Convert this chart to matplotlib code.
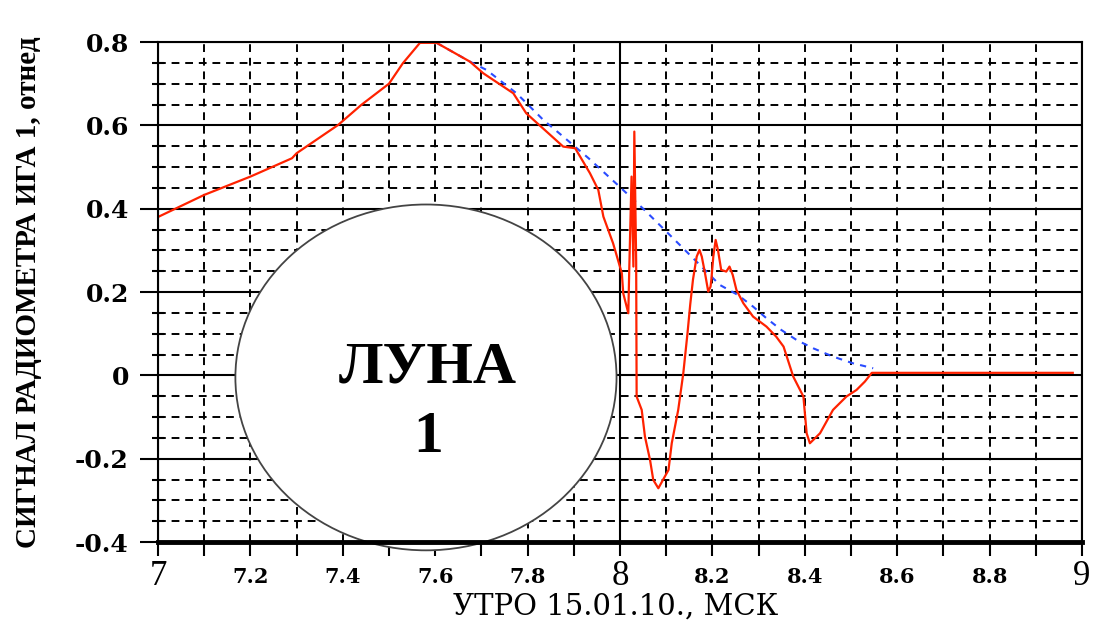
import numpy as np
import matplotlib.pyplot as plt
from matplotlib.patches import Ellipse
from matplotlib.ticker import MultipleLocator

# measured radiometer signal (red)
t_sig = [7.00, 7.10, 7.20, 7.29, 7.30, 7.39, 7.44, 7.50, 7.53, 7.567, 7.603,
         7.675, 7.704, 7.769, 7.797, 7.877, 7.903, 7.935, 7.953, 7.964, 7.985,
         8.004, 8.007, 8.018, 8.020, 8.025, 8.029, 8.031, 8.035, 8.036, 8.047,
         8.054, 8.065, 8.072, 8.083, 8.105, 8.112, 8.126, 8.137, 8.146, 8.152,
         8.158, 8.166, 8.172, 8.177, 8.184, 8.191, 8.196, 8.198, 8.202, 8.207,
         8.212, 8.219, 8.230, 8.237, 8.244, 8.252, 8.267, 8.288, 8.317, 8.338,
         8.354, 8.375, 8.397, 8.404, 8.411, 8.433, 8.461, 8.490, 8.512, 8.530,
         8.545, 8.98]
sig = [0.380, 0.433, 0.477, 0.521, 0.533, 0.601, 0.649, 0.700, 0.749, 0.798, 0.798,
       0.753, 0.725, 0.677, 0.629, 0.549, 0.545, 0.485, 0.445, 0.381, 0.317,
       0.245, 0.197, 0.149, 0.253, 0.477, 0.261, 0.585, 0.273, -0.051, -0.083,
       -0.147, -0.203, -0.251, -0.271, -0.227, -0.163, -0.083, 0.005, 0.10, 0.17,
       0.23, 0.285, 0.301, 0.285, 0.245, 0.201, 0.213, 0.233, 0.285, 0.325,
       0.301, 0.253, 0.249, 0.261, 0.241, 0.205, 0.173, 0.141, 0.117, 0.093,
       0.069, -0.003, -0.051, -0.139, -0.163, -0.139, -0.083, -0.051, -0.035, -0.015,
       0.006, 0.006]

# smooth envelope (blue dashed)
t_env = [7.603, 7.675, 7.711, 7.776, 7.834, 7.877, 7.932, 7.993, 8.051, 8.104,
         8.133, 8.162, 8.187, 8.216, 8.255, 8.288, 8.317, 8.349, 8.382, 8.418,
         8.461, 8.504, 8.548]
env = [0.798, 0.753, 0.733, 0.677, 0.613, 0.573, 0.521, 0.459, 0.399, 0.341,
       0.309, 0.277, 0.249, 0.217, 0.193, 0.165, 0.137, 0.109, 0.085, 0.065,
       0.045, 0.029, 0.017]

x_major = [7, 8, 9]
x_major_labels = ['7', '8', '9']
x_minor_pos = [7.2, 7.4, 7.6, 7.8, 8.2, 8.4, 8.6, 8.8]
x_minor_labels = ['7.2', '7.4', '7.6', '7.8', '8.2', '8.4', '8.6', '8.8']
y_ticks = [-0.4, -0.2, 0, 0.2, 0.4, 0.6, 0.8]
y_labels = ['-0.4', '-0.2', '0', '0.2', '0.4', '0.6', '0.8']

times = ['Liberation Serif', 'DejaVu Serif']
wide = ['DejaVu Serif']

fig = plt.figure(figsize=(10.96, 6.24), dpi=100)
ax = fig.add_axes([158/1096, 1 - 542/624, 924/1096, 500/624])

ax.set_xlim(7, 9)
ax.set_ylim(-0.4, 0.8)

ax.xaxis.set_minor_locator(MultipleLocator(0.1))
ax.yaxis.set_minor_locator(MultipleLocator(0.05))
ax.set_xticks(x_major)
ax.set_xticklabels(x_major_labels, fontsize=25, family=times)
ax.set_yticks(y_ticks)
ax.set_yticklabels(y_labels, fontsize=18, family=wide, fontweight='bold')

# intermediate x labels (smaller, bold)
for xp, lab in zip(x_minor_pos, x_minor_labels):
    ax.annotate(lab, (xp, 0), xycoords=('data', 'axes fraction'),
                xytext=(0, -25), textcoords='offset points',
                ha='center', va='center', fontsize=15, fontweight='bold',
                family=wide)

ax.tick_params(axis='x', which='both', direction='out', length=10, width=1.5, pad=3)
ax.tick_params(axis='y', which='major', direction='out', length=13, width=1.5, pad=8)
ax.tick_params(axis='y', which='minor', direction='inout', length=8, width=1.5)

ax.grid(which='major', color='black', lw=1.5, ls='-')
ax.grid(which='minor', color='black', lw=1.4, ls=(0, (4, 3)))
ax.set_axisbelow(True)

for s in ['top', 'right', 'left']:
    ax.spines[s].set_linewidth(1.5)
ax.spines['bottom'].set_linewidth(3.5)
for s in ax.spines.values():
    s.set_zorder(6)

moon = Ellipse((7.58, -0.005), 0.825, 0.83, facecolor='white',
               edgecolor='#444444', lw=1.3, zorder=3, clip_on=False)
ax.add_patch(moon)
ax.text(7.585, -0.018, 'ЛУНА', ha='center', va='baseline', fontsize=43,
        fontweight='bold', family=times, zorder=4)
ax.text(7.585, -0.184, '1', ha='center', va='baseline', fontsize=43,
        fontweight='bold', family=times, zorder=4)

ax.plot(t_env, env, color='#2a4cff', lw=1.5, ls=(0, (3, 3)), zorder=4)
ax.plot(t_sig, sig, color='#ff2200', lw=1.6, zorder=5)

fig.text(0.562, 1 - 615/624, 'УТРО 15.01.10., МСК', ha='center', va='baseline',
         fontsize=21, family=wide)
ax.set_ylabel('СИГНАЛ РАДИОМЕТРА ИГА 1, отнед', fontsize=21, family=times,
              fontweight='bold', labelpad=24)

fig.savefig('out.png', dpi=100)
